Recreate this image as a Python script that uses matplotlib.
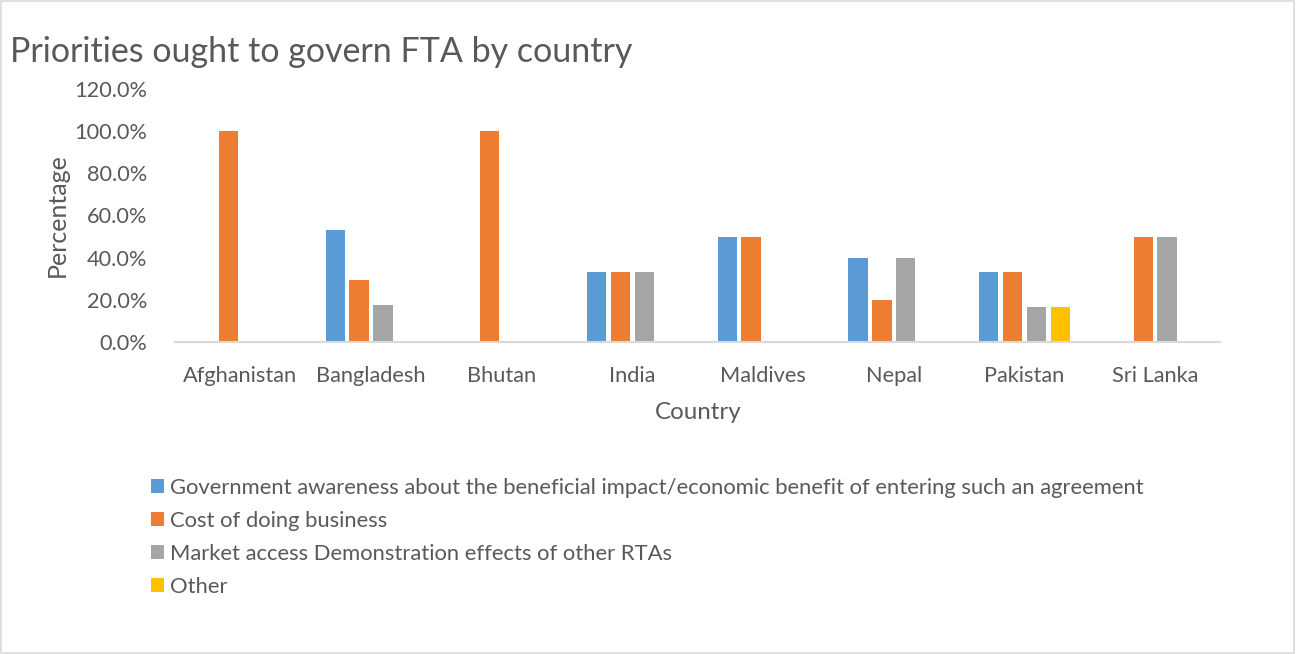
import matplotlib.pyplot as plt
import matplotlib.ticker as ticker
from matplotlib.patches import Rectangle
import numpy as np

countries = ['Afghanistan', 'Bangladesh', 'Bhutan', 'India', 'Maldives', 'Nepal', 'Pakistan', 'Sri Lanka']
series_names = [
    'Government awareness about the beneficial impact/economic benefit of entering such an agreement',
    'Cost of doing business',
    'Market access Demonstration effects of other RTAs',
    'Other',
]
gov_awareness = [0.0, 52.9, 0.0, 33.3, 50.0, 40.0, 33.3, 0.0]
cost_business = [100.0, 29.4, 100.0, 33.3, 50.0, 20.0, 33.3, 50.0]
market_access = [0.0, 17.6, 0.0, 33.3, 0.0, 40.0, 16.7, 50.0]
other = [0.0, 0.0, 0.0, 0.0, 0.0, 0.0, 16.7, 0.0]
colors = ['#5b9bd5', '#ed7d31', '#a5a5a5', '#ffc000']

txt = '#595959'
plt.rcParams['font.family'] = ['Lato', 'DejaVu Sans']

fig = plt.figure(figsize=(12.97, 6.54), dpi=100)
ax = fig.add_axes([0.135, 0.477, 0.806, 0.387])

x = np.arange(len(countries))
step = 0.183
for i, (vals, name) in enumerate(zip([gov_awareness, cost_business, market_access, other], series_names)):
    ax.bar(x + (i - 1.5) * step, vals, width=0.148, color=colors[i], label=name, zorder=2)

ax.set_xlim(-0.5, len(countries) - 0.5)
ax.set_ylim(0, 120)
ax.yaxis.set_major_locator(ticker.MultipleLocator(20))
ax.yaxis.set_major_formatter(ticker.FuncFormatter(lambda v, p: f'{v:.1f}%'))
ax.set_xticks(x)
ax.set_xticklabels(countries)
ax.tick_params(axis='both', length=0, labelsize=15.7, colors=txt)
ax.tick_params(axis='x', pad=17)
ax.tick_params(axis='y', pad=20)
for s in ['top', 'right', 'left']:
    ax.spines[s].set_visible(False)
ax.spines['bottom'].set_color('#d9d9d9')
ax.spines['bottom'].set_linewidth(1.5)

ax.set_xlabel('Country', fontsize=17.4, color=txt, labelpad=12)
ax.set_ylabel('Percentage', fontsize=18, color=txt, labelpad=4)

fig.text(0.008, 0.905, 'Priorities ought to govern FTA by country', fontsize=24.5, color=txt)

fig.legend(loc='upper left', bbox_to_anchor=(0.101, 0.3), frameon=False,
           fontsize=15.8, labelcolor=txt, handlelength=0.6, handleheight=0.6,
           handletextpad=0.3, labelspacing=0.6)

fig.patches.append(Rectangle((0.001, 0.002), 0.997, 0.996, transform=fig.transFigure,
                             fill=False, edgecolor='#d9d9d9', linewidth=1.2))

fig.savefig('out.png', dpi=100)
